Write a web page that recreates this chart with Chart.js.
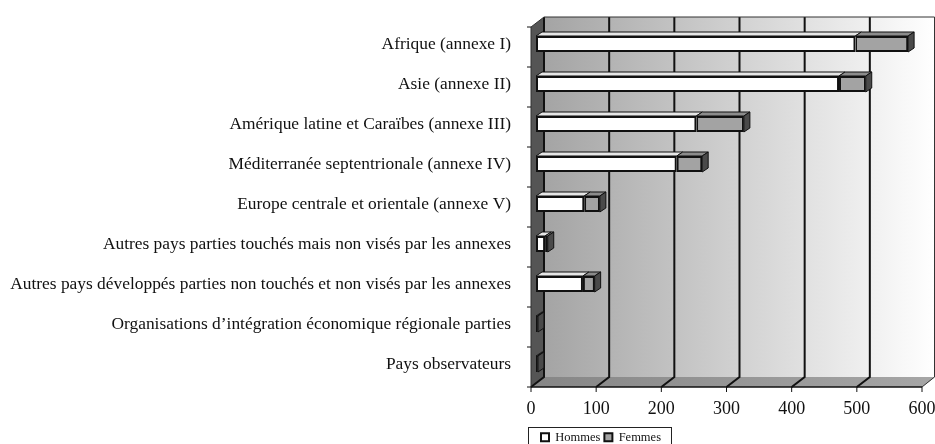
<!DOCTYPE html>
<html>
<head>
<meta charset="utf-8">
<script src="https://cdn.jsdelivr.net/npm/chart.js@4/dist/chart.umd.min.js"></script>
<style>
  html, body { margin: 0; padding: 0; background: #fff; }
</style>
</head>
<body>
<canvas id="chart-bar" width="935" height="444"></canvas>
<script>
// donnees
var categories = [
    'Afrique (annexe I)',
    'Asie (annexe II)',
    'Amérique latine et Caraïbes (annexe III)',
    'Méditerranée septentrionale (annexe IV)',
    'Europe centrale et orientale (annexe V)',
    'Autres pays parties touchés mais non visés par les annexes',
    'Autres pays développés parties non touchés et non visés par les annexes',
    'Organisations d\u2019intégration économique régionale parties',
    'Pays observateurs'
];
var hommes = [490, 465, 246, 216, 74, 14, 72, 2, 2];
var femmes = [81, 41, 73, 39, 24, 4, 18, 1, 1];
var xTicks = [0, 100, 200, 300, 400, 500, 600];

// decalages du faux effet 3D
var FRONT_DX = -5, FRONT_DY = 3;   // plan des barres -> plan avant
var DEPTH_X = 13, DEPTH_Y = -10;   // plan avant -> mur du fond
var BAR_DX = 6, BAR_DY = -4;       // profondeur des barres

function poly(ctx, pts, fill, stroke, lw) {
    ctx.beginPath();
    ctx.moveTo(pts[0][0], pts[0][1]);
    for (var i = 1; i < pts.length; i++) ctx.lineTo(pts[i][0], pts[i][1]);
    ctx.closePath();
    if (fill) { ctx.fillStyle = fill; ctx.fill(); }
    if (stroke) { ctx.strokeStyle = stroke; ctx.lineWidth = lw || 1; ctx.stroke(); }
}

var walls = {
    id: 'walls',
    beforeDatasetsDraw: function(chart) {
        var ctx = chart.ctx, ca = chart.chartArea;
        var xs = chart.scales.x;
        var L = xs.getPixelForValue(xTicks[0]) + FRONT_DX;
        var R = xs.getPixelForValue(xTicks[xTicks.length - 1]) + FRONT_DX;
        var T = ca.top + FRONT_DY, B = ca.bottom + FRONT_DY;
        var bL = L + DEPTH_X, bR = R + DEPTH_X, bT = T + DEPTH_Y, bB = B + DEPTH_Y;
        ctx.save();
        // mur du fond
        var g = ctx.createLinearGradient(bL, 0, bR, 0);
        g.addColorStop(0, '#a4a4a4');
        g.addColorStop(1, '#ffffff');
        ctx.fillStyle = g;
        ctx.fillRect(bL, bT, bR - bL, bB - bT);
        // sol
        var gf = ctx.createLinearGradient(L, 0, bR, 0);
        gf.addColorStop(0, '#868686');
        gf.addColorStop(1, '#a6a6a6');
        poly(ctx, [[L, B], [bL, bB], [bR, bB], [R, B]], gf);
        // mur gauche
        poly(ctx, [[L, T], [bL, bT], [bL, bB], [L, B]], '#555555');
        // quadrillage
        ctx.strokeStyle = '#111';
        ctx.lineWidth = 2;
        xTicks.forEach(function(v, i) {
            if (i === xTicks.length - 1) return;
            var px = xs.getPixelForValue(v) + FRONT_DX;
            ctx.beginPath();
            ctx.moveTo(px + DEPTH_X, bT);
            ctx.lineTo(px + DEPTH_X, bB);
            ctx.lineTo(px, B);
            ctx.stroke();
        });
        // contours
        ctx.lineWidth = 1;
        ctx.strokeStyle = '#333';
        ctx.beginPath();
        ctx.moveTo(L, B); ctx.lineTo(L, T); ctx.lineTo(bL, bT);
        ctx.lineTo(bR - 0.5, bT); ctx.lineTo(bR - 0.5, bB); ctx.lineTo(R, B);
        ctx.stroke();
        ctx.lineWidth = 1.5;
        ctx.strokeStyle = '#111';
        ctx.beginPath();
        ctx.moveTo(L, B); ctx.lineTo(R, B);
        ctx.stroke();
        // graduations
        ctx.lineWidth = 1;
        xTicks.forEach(function(v) {
            var px = xs.getPixelForValue(v) + FRONT_DX;
            ctx.beginPath(); ctx.moveTo(px, B); ctx.lineTo(px, B + 5); ctx.stroke();
        });
        for (var i = 0; i <= categories.length; i++) {
            var py = T + i * (B - T) / categories.length;
            ctx.beginPath(); ctx.moveTo(L - 4, py); ctx.lineTo(L, py); ctx.stroke();
        }
        ctx.restore();
    },
    afterDatasetsDraw: function(chart) {
        var ctx = chart.ctx;
        var topColors = ['#e6e6e6', '#8c8c8c'];
        var last = chart.data.datasets.length - 1;
        ctx.save();
        chart.data.datasets.forEach(function(ds, di) {
            var meta = chart.getDatasetMeta(di);
            meta.data.forEach(function(bar) {
                var p = bar.getProps(['x', 'y', 'base', 'height'], true);
                var top = p.y - p.height / 2, bot = p.y + p.height / 2;
                poly(ctx, [[p.base, top], [p.base + BAR_DX, top + BAR_DY], [p.x + BAR_DX, top + BAR_DY], [p.x, top]], topColors[di], '#111', 1);
                if (di === last) {
                    poly(ctx, [[p.x, top], [p.x + BAR_DX, top + BAR_DY], [p.x + BAR_DX, bot + BAR_DY], [p.x, bot]], '#4a4a4a', '#111', 1);
                }
            });
        });
        ctx.restore();
    },
    afterLayout: function(chart) {
        var lg = chart.legend;
        lg.left = 537;
        lg.right = 935;
        lg.top = 427;
        lg.bottom = 427 + lg.height;
    },
    afterDraw: function(chart) {
        var ctx = chart.ctx, lg = chart.legend;
        var hb = lg.legendHitBoxes;
        var right = hb.length ? hb[hb.length - 1].left + hb[hb.length - 1].width + 10 : 667;
        ctx.save();
        ctx.strokeStyle = '#222';
        ctx.lineWidth = 1;
        ctx.strokeRect(528.5, 427.5, right - 528, 30);
        ctx.restore();
    }
};

var ctx = document.getElementById('chart-bar').getContext('2d');
var myChart = new Chart(ctx, {
    type: 'bar',
    data: {
        labels: categories,
        datasets: [{
            label: 'Hommes',
            data: hommes,
            backgroundColor: '#ffffff',
            borderColor: '#111',
            borderWidth: 2,
            borderSkipped: false
        },
        {
            label: 'Femmes',
            data: femmes,
            backgroundColor: '#a3a3a3',
            borderColor: '#111',
            borderWidth: 2,
            borderSkipped: false
        }]
    },
    options: {
        indexAxis: 'y',
        responsive: false,
        animation: false,
        barPercentage: 0.4,
        categoryPercentage: 1,
        layout: { padding: { top: 24, right: 8, left: 0, bottom: 0 } },
        plugins: {
            tooltip: { enabled: false },
            legend: {
                position: 'bottom',
                align: 'start',
                labels: {
                    font: { family: 'Liberation Serif', size: 12.5 },
                    color: '#111',
                    boxWidth: 8,
                    boxHeight: 8,
                    padding: 4
                }
            }
        },
        scales: {
            x: {
                stacked: true,
                min: 0,
                max: 600,
                grid: { display: false, drawTicks: false },
                border: { display: false },
                ticks: {
                    stepSize: 100,
                    autoSkip: false,
                    maxRotation: 0,
                    labelOffset: FRONT_DX,
                    padding: 14,
                    color: '#111',
                    font: { family: 'Liberation Serif', size: 18 }
                },
                afterFit: function(s) {
                    s.height = 60 - s.chart.legend.height;
                    s.paddingLeft = 0;
                    s.paddingRight = 0;
                }
            },
            y: {
                stacked: true,
                grid: { display: false, drawTicks: false },
                border: { display: false },
                ticks: {
                    autoSkip: false,
                    padding: 25,
                    color: '#111',
                    font: { family: 'Liberation Serif', size: 17.4 }
                },
                afterFit: function(s) {
                    s.width = 536;
                    s.paddingTop = 0;
                    s.paddingBottom = 0;
                }
            }
        }
    },
    plugins: [walls]
});
</script>
</body>
</html>
